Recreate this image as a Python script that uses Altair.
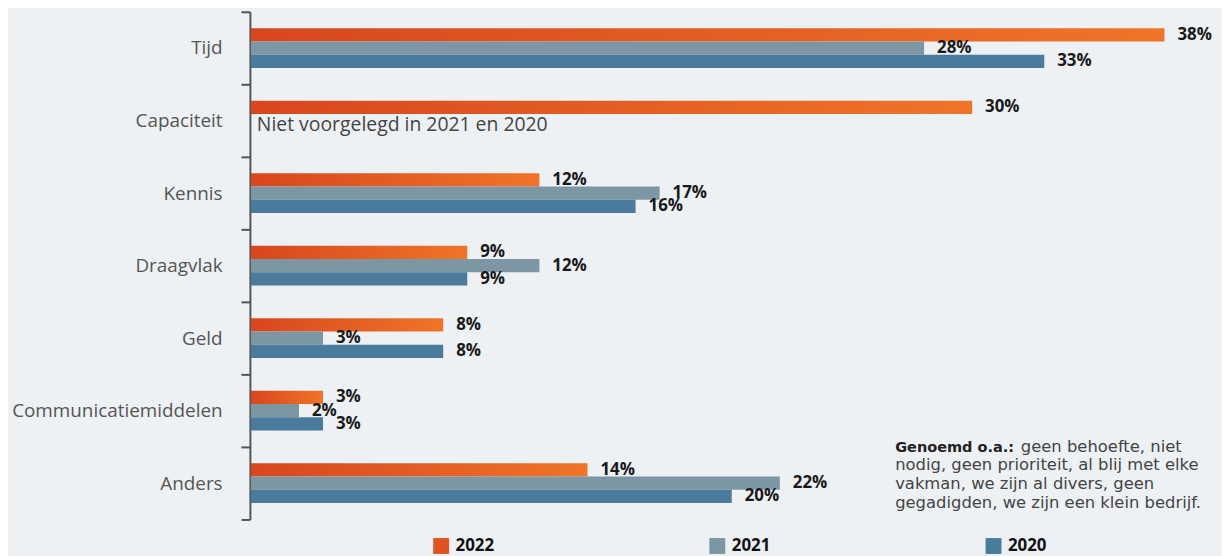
import altair as alt
import pandas as pd

categories = ["Tijd", "Capaciteit", "Kennis", "Draagvlak", "Geld", "Communicatiemiddelen", "Anders"]
years = ["2022", "2021", "2020"]
v2022 = [38, 30, 12, 9, 8, 3, 14]
v2021 = [28, None, 17, 12, 3, 2, 22]
v2020 = [33, None, 16, 9, 8, 3, 20]
year_colors = ["#e0521f", "#7d96a3", "#4a7a9c"]
note_capaciteit = "Niet voorgelegd in 2021 en 2020"
note_bold = "Genoemd o.a.:"
note_rest_first = "geen behoefte, niet"
note_rest_lines = ["nodig, geen prioriteit, al blij met elke",
                   "vakman, we zijn al divers, geen",
                   "gegadigden, we zijn een klein bedrijf."]

rows = []
for yr, vals in zip(years, [v2022, v2021, v2020]):
    for c, v in zip(categories, vals):
        if v is not None:
            rows.append({"cat": c, "year": yr, "value": v, "label": f"{v}%"})
df = pd.DataFrame(rows)

grad = alt.Gradient(gradient="linear", x1=0, x2=1, y1=0, y2=0,
                    stops=[alt.GradientStop(color="#d8461e", offset=0),
                           alt.GradientStop(color="#f07428", offset=1)])

y_enc = alt.Y("cat:N", sort=categories, title=None,
              scale=alt.Scale(paddingInner=0, paddingOuter=0),
              axis=alt.Axis(tickBand="extent", labelFont="Open Sans", labelFontSize=19,
                            labelColor="#555555", labelPadding=19, tickSize=9,
                            tickColor="#555555", domainColor="#555555",
                            domainWidth=2, tickWidth=2, labelLimit=400, offset=1))
# empty slots above/below the three bars keep each group in the middle of its band
slot_domain = ["_top"] + years + ["_bottom"]
yoff = alt.YOffset("year:N", scale=alt.Scale(domain=slot_domain, paddingInner=0, paddingOuter=0.24))
x_enc = alt.X("value:Q", scale=alt.Scale(domain=[0, 40]), axis=None)

base = alt.Chart(df)

bars = base.mark_bar(height={"band": 1}).encode(
    x=x_enc, y=y_enc, yOffset=yoff,
    color=alt.condition(
        alt.datum.year == "2022",
        alt.value(grad),
        alt.Color("year:N", sort=years,
                  scale=alt.Scale(domain=years, range=year_colors),
                  legend=alt.Legend(title=None, orient="none", legendX=183, legendY=529,
                                    direction="horizontal", symbolType="square",
                                    symbolSize=256, symbolStrokeWidth=0,
                                    labelFont="Open Sans", labelFontSize=17,
                                    labelFontWeight="bold", labelColor="#111111",
                                    columnPadding=216, labelOffset=6)),
    ),
)

labels = base.mark_text(align="left", baseline="middle", dx=13, font="Open Sans",
                        fontSize=17, fontWeight="bold", color="#1a1a1a").encode(
    x=x_enc, y=alt.Y("cat:N", sort=categories), yOffset=yoff, text="label:N")

note_df = pd.DataFrame([{"cat": categories[1], "year": years[1], "value": 0, "txt": note_capaciteit}])
note = alt.Chart(note_df).mark_text(align="left", baseline="middle", dx=6, dy=5,
                                    font="Open Sans", fontSize=19.5, color="#444444").encode(
    x=x_enc, y=alt.Y("cat:N", sort=categories), yOffset=yoff, text="txt:N")

one = alt.Data(values=[{}])
ann_bold = alt.Chart(one).mark_text(align="left", baseline="alphabetic", font="DejaVu Sans",
                                    fontSize=14.6, fontWeight="bold", color="#222222").encode(
    x=alt.value(648.5), y=alt.value(443), text=alt.value(note_bold))
ann_first = alt.Chart(one).mark_text(align="left", baseline="alphabetic", font="DejaVu Sans",
                                     fontSize=16.5, color="#444444").encode(
    x=alt.value(775), y=alt.value(443), text=alt.value(note_rest_first))
ann_rest = alt.Chart(one).mark_text(align="left", baseline="alphabetic", font="DejaVu Sans",
                                    fontSize=16.5, lineHeight=18.7, color="#444444").encode(
    x=alt.value(648.5), y=alt.value(461.7), text=alt.value(note_rest_lines))

chart = alt.layer(bars, labels, note, ann_bold, ann_first, ann_rest).properties(
    width=968, height=511, background="#edf1f4",
    autosize=alt.AutoSizeParams(type="none"),
    padding={"left": 244.5, "top": 2, "right": 9.5, "bottom": 35},
).configure_view(stroke=None)

chart.save("out.html", embed_options={"renderer": "svg", "actions": False})
